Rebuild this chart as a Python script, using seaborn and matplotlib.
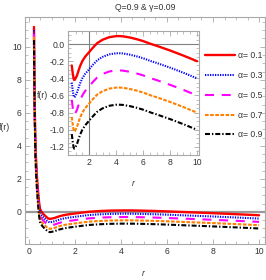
import numpy as np
import pandas as pd
import matplotlib
matplotlib.use("Agg")
import matplotlib.pyplot as plt
import seaborn as sns

# values
r = [0.22, 0.23, 0.24, 0.25, 0.26, 0.28, 0.30, 0.33, 0.36, 0.40, 0.44, 0.48,
     0.53, 0.60, 0.66, 0.72, 0.79, 0.85, 0.90, 0.95, 1.0, 1.1, 1.2, 1.33,
     1.5, 1.7, 2.0, 2.3, 2.6, 3.0, 3.5, 4.0, 4.2, 4.5, 5.0, 5.5, 6.0, 6.6,
     7.0, 8.0, 9.0, 10.0]

f_a01 = [11.2, 9.5, 8.0, 6.8, 5.8, 4.4, 3.5, 2.6, 1.9, 1.2, 0.6, 0.2,
         0.05, -0.08, -0.17, -0.25, -0.34, -0.40, -0.42, -0.415, -0.40, -0.37, -0.32, -0.26,
         -0.20, -0.15, -0.095, -0.04, 0.01, 0.05, 0.08, 0.092, 0.093, 0.09, 0.077, 0.058, 0.035, 0.0,
         -0.02, -0.075, -0.135, -0.2]
f_a03 = [11.0, 9.3, 7.8, 6.6, 5.6, 4.2, 3.3, 2.4, 1.7, 1.0, 0.4, 0.0,
         -0.15, -0.28, -0.37, -0.45, -0.54, -0.60, -0.62, -0.615, -0.60, -0.57, -0.52, -0.46,
         -0.40, -0.35, -0.295, -0.24, -0.19, -0.15, -0.12, -0.108, -0.107, -0.11, -0.123, -0.142, -0.165, -0.2,
         -0.22, -0.275, -0.335, -0.4]
f_a05 = [10.8, 9.1, 7.6, 6.4, 5.4, 4.0, 3.1, 2.2, 1.5, 0.8, 0.2, -0.2,
         -0.35, -0.48, -0.57, -0.65, -0.74, -0.80, -0.82, -0.815, -0.80, -0.77, -0.72, -0.66,
         -0.60, -0.55, -0.495, -0.44, -0.39, -0.35, -0.32, -0.308, -0.307, -0.31, -0.323, -0.342, -0.365, -0.4,
         -0.42, -0.475, -0.535, -0.6]
f_a07 = [10.6, 8.9, 7.4, 6.2, 5.2, 3.8, 2.9, 2.0, 1.3, 0.6, 0.0, -0.4,
         -0.55, -0.68, -0.77, -0.85, -0.94, -1.00, -1.02, -1.015, -1.00, -0.97, -0.92, -0.86,
         -0.80, -0.75, -0.695, -0.64, -0.59, -0.55, -0.52, -0.508, -0.507, -0.51, -0.523, -0.542, -0.565, -0.6,
         -0.62, -0.675, -0.735, -0.8]
f_a09 = [10.4, 8.7, 7.2, 6.0, 5.0, 3.6, 2.7, 1.8, 1.1, 0.4, -0.2, -0.6,
         -0.75, -0.88, -0.97, -1.05, -1.14, -1.20, -1.22, -1.215, -1.20, -1.17, -1.12, -1.06,
         -1.00, -0.95, -0.895, -0.84, -0.79, -0.75, -0.72, -0.708, -0.707, -0.71, -0.723, -0.742, -0.765, -0.8,
         -0.82, -0.875, -0.935, -1.0]

alphas = ["0.1", "0.3", "0.5", "0.7", "0.9"]
series = [f_a01, f_a03, f_a05, f_a07, f_a09]
colors = ["#ff0000", "#0000ff", "#ff00ff", "#ff8000", "#000000"]
styles = ["-", (0, (0.9, 0.9)), (0, (6.5, 5.5)), (0, (2.6, 1.1)), (0, (3.6, 1.4, 1.0, 1.4))]
widths = [1.7, 1.5, 1.5, 1.5, 1.5]

sns.set_style("ticks")
plt.rcParams["font.family"] = ["Liberation Sans", "DejaVu Sans"]
plt.rcParams["lines.scale_dashes"] = False

frame_col = "#a8a8a8"
text_col = "#333333"
fs = 6.2

df = pd.DataFrame({"r": r})
for a, f in zip(alphas, series):
    df[a] = f

fig = plt.figure(figsize=(2.66, 2.8), dpi=100)
W, H = 266, 280
ax = fig.add_axes([25 / W, 1 - 244 / H, 240 / W, 227 / H])
axin = fig.add_axes([68 / W, 1 - 155 / H, 131 / W, 124 / H])


def style_frame(a, size):
    for s in a.spines.values():
        s.set_color(frame_col)
        s.set_linewidth(0.8)
        s.set_visible(True)
    a.tick_params(which="both", direction="in", top=True, right=True,
                  color=frame_col, labelsize=size, labelcolor=text_col, pad=2.5)
    a.tick_params(which="major", length=3.5, width=0.6)
    a.tick_params(which="minor", length=2, width=0.5)
    a.set_xlabel("")
    a.set_ylabel("")


# main plot
ax.axhline(0, color="#999999", lw=1.6, zorder=1)
for a, c, ls, lw in zip(alphas, colors, styles, widths):
    sns.lineplot(data=df, x="r", y=a, ax=ax, color=c, linestyle=ls, lw=lw,
                 sort=False, label="\u03b1= " + a)
if ax.get_legend() is not None:
    ax.get_legend().remove()
ax.set_xlim(-0.17, 10.26)
ax.set_ylim(-1.94, 11.8)
ax.set_xticks([0, 2, 4, 6, 8, 10])
ax.set_yticks([0, 2, 4, 6, 8, 10])
ax.set_xticks(np.arange(0, 10.01, 0.5), minor=True)
ax.set_yticks(np.arange(-1.5, 11.6, 0.5), minor=True)
style_frame(ax, fs)

# inset
inset = df[df["r"] >= 0.72]
axin.axhline(0, color="#808080", lw=0.8, zorder=1)
axin.axvline(2, color="#808080", lw=0.8, zorder=1)
for a, c, ls, lw in zip(alphas, colors, styles, widths):
    sns.lineplot(data=inset, x="r", y=a, ax=axin, color=c, linestyle=ls, lw=lw,
                 sort=False, legend=False)
axin.set_xlim(0.44, 10.15)
axin.set_ylim(-1.294, 0.152)
axin.set_xticks([2, 4, 6, 8, 10])
axin.set_yticks([0.0, -0.2, -0.4, -0.6, -0.8, -1.0, -1.2])
axin.set_yticklabels(["0.0", "-0.2", "-0.4", "-0.6", "-0.8", "-1.0", "-1.2"])
axin.set_xticks(np.arange(1, 10.01, 0.5), minor=True)
axin.set_yticks(np.arange(-1.25, 0.11, 0.05), minor=True)
style_frame(axin, fs)

handles, labels = ax.get_legend_handles_labels()
fig.legend(handles, labels, loc="upper left", bbox_to_anchor=(201 / W, 1 - 47 / H),
           frameon=False, fontsize=fs, handlelength=3.5, handletextpad=0.35,
           labelspacing=1.25, borderpad=0, labelcolor=text_col)

fig.text(145 / W, 1 - 8 / H, "Q=0.9 & \u03b3=0.09", ha="center", va="center",
         fontsize=fs, color=text_col)
fig.text(5 / W, 1 - 128 / H, "f(r)", ha="center", va="center", fontsize=fs, color=text_col)
fig.text(143 / W, 1 - 273 / H, "r", ha="center", va="center", fontsize=fs,
         style="italic", color=text_col)
fig.text(43 / W, 1 - 95 / H, "f(r)", ha="center", va="center", fontsize=fs, color=text_col)
fig.text(133 / W, 1 - 183 / H, "r", ha="center", va="center", fontsize=fs,
         style="italic", color=text_col)

fig.savefig("out.png", dpi=100)
